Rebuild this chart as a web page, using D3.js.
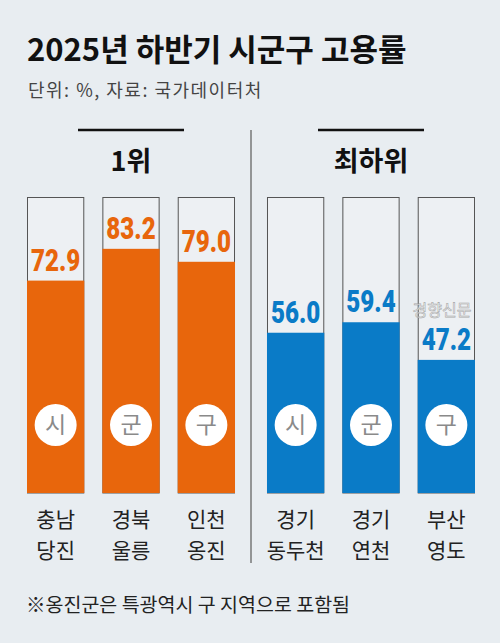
<!DOCTYPE html>
<html>
<head>
<meta charset="utf-8">
<script src="https://cdn.jsdelivr.net/npm/d3@7"></script>
<style>
  html, body { margin: 0; padding: 0; background: #e8edf1; }
</style>
</head>
<body>
<div id="chart"></div>
<script>
// chart data
var groups = ["1위", "최하위"];
var groupOf = ["1위", "1위", "1위", "최하위", "최하위", "최하위"];
var types = ["시", "군", "구", "시", "군", "구"];
var regionLine1 = ["충남", "경북", "인천", "경기", "경기", "부산"];
var regionLine2 = ["당진", "울릉", "옹진", "동두천", "연천", "영도"];
var values = [72.9, 83.2, 79.0, 56.0, 59.4, 47.2];
var groupColors = ["#e8660c", "#0a7bc7"];

var w = 500, h = 643;

var svg = d3.select("#chart").append("svg")
    .attr("width", w).attr("height", h);

svg.append("rect").attr("x", 0).attr("y", 0).attr("width", w).attr("height", h)
    .style("fill", "#e8edf1");

// title + source line
svg.append("text").attr("x", 27).attr("y", 61)
    .attr("font-family", "'Noto Sans CJK KR', 'Noto Sans', sans-serif")
    .attr("font-weight", "bold").attr("font-size", 31)
    .attr("fill", "#111")
    .text("2025년 하반기 시군구 고용률");

svg.append("text").attr("x", 28).attr("y", 97)
    .attr("font-family", "'Noto Sans CJK KR', sans-serif")
    .attr("font-size", 18).attr("letter-spacing", 1.5).attr("fill", "#444")
    .text("단위: %, 자료: 국가데이터처");

// scales
var x0 = d3.scaleBand().domain(groups).range([27, 475]).paddingInner(0.1333);
var x1 = d3.scaleBand().domain([0, 1, 2]).range([0, x0.bandwidth()]).paddingInner(0.24);
var y = d3.scaleLinear().domain([0, 100]).range([505.5, 197]);
var boxTop = y(100), boxBottom = 493;

var barX = function(i) {
  return x0(groupOf[i]) + x1(i % 3);
};
var barCx = function(i) { return barX(i) + x1.bandwidth() / 2; };
var colorOf = function(i) { return groupColors[groups.indexOf(groupOf[i])]; };

// group headers
groups.forEach(function(g) {
  var cx = x0(g) + x0.bandwidth() / 2;
  svg.append("line")
      .attr("x1", cx - 53).attr("x2", cx + 53)
      .attr("y1", 130).attr("y2", 130)
      .attr("stroke", "#111").attr("stroke-width", 2.5);
  svg.append("text").attr("x", cx).attr("y", 171)
      .attr("text-anchor", "middle")
      .attr("font-family", "'Noto Sans CJK KR', sans-serif")
      .attr("font-weight", "bold").attr("font-size", 27)
      .attr("fill", "#111")
      .text(g);
});

// divider between the groups
var divX = (x0(groups[0]) + x0.bandwidth() + x0(groups[1])) / 2;
svg.append("line")
    .attr("x1", divX).attr("x2", divX)
    .attr("y1", 130).attr("y2", 563)
    .attr("stroke", "#777").attr("stroke-width", 1.5);

var idx = d3.range(values.length);

// empty boxes (full 100% frame)
svg.selectAll("rect.box").data(idx).enter().append("rect")
    .attr("class", "box")
    .attr("x", function(i) { return barX(i) + 0.5; })
    .attr("y", boxTop + 0.5)
    .attr("width", x1.bandwidth() - 1)
    .attr("height", boxBottom - boxTop - 0.5)
    .style("fill", "#edf0f3")
    .style("stroke", "#555").style("stroke-width", 1);

// filled bars
svg.selectAll("rect.bar").data(idx).enter().append("rect")
    .attr("class", "bar")
    .attr("x", function(i) { return barX(i); })
    .attr("y", function(i) { return y(values[i]); })
    .attr("width", x1.bandwidth())
    .attr("height", function(i) { return boxBottom - y(values[i]); })
    .style("fill", colorOf);

// value labels (condensed bold)
svg.selectAll("text.val").data(idx).enter().append("text")
    .attr("class", "val")
    .attr("transform", function(i) {
      return "translate(" + barCx(i) + "," + (y(values[i]) - 10) + ") scale(0.78,1)";
    })
    .attr("text-anchor", "middle")
    .attr("font-family", "Roboto, sans-serif")
    .attr("font-weight", 900).attr("font-size", 31)
    .attr("fill", colorOf)
    .text(function(i) { return values[i].toFixed(1); });

// type badges
svg.selectAll("circle.badge").data(idx).enter().append("circle")
    .attr("class", "badge")
    .attr("cx", barCx).attr("cy", 425).attr("r", 21)
    .style("fill", "white");

svg.selectAll("text.badge").data(idx).enter().append("text")
    .attr("class", "badge")
    .attr("x", barCx).attr("y", 433)
    .attr("text-anchor", "middle")
    .attr("font-family", "'Noto Sans CJK KR', sans-serif")
    .attr("font-size", 23).attr("fill", "#8a8a8a")
    .text(function(i) { return types[i]; });

// region labels, two lines
svg.selectAll("text.reg1").data(idx).enter().append("text")
    .attr("class", "reg1")
    .attr("x", barCx).attr("y", 527)
    .attr("text-anchor", "middle")
    .attr("font-family", "'Noto Sans CJK KR', sans-serif")
    .attr("font-size", 21).attr("fill", "#222")
    .text(function(i) { return regionLine1[i]; });

svg.selectAll("text.reg2").data(idx).enter().append("text")
    .attr("class", "reg2")
    .attr("x", barCx).attr("y", 558)
    .attr("text-anchor", "middle")
    .attr("font-family", "'Noto Sans CJK KR', sans-serif")
    .attr("font-size", 21).attr("fill", "#222")
    .text(function(i) { return regionLine2[i]; });

// footnote
svg.append("text").attr("x", 26).attr("y", 612)
    .attr("font-family", "'Noto Sans CJK KR', sans-serif")
    .attr("font-size", 19.5).attr("fill", "#222")
    .text("※옹진군은 특광역시 구 지역으로 포함됨");

// publisher watermark
svg.append("text").attr("x", 442).attr("y", 316)
    .attr("text-anchor", "middle")
    .attr("font-family", "'Noto Sans CJK KR', sans-serif")
    .attr("font-size", 16).attr("fill", "white")
    .attr("stroke", "#999").attr("stroke-width", 0.6)
    .style("opacity", 0.85)
    .text("경향신문");
</script>
</body>
</html>
